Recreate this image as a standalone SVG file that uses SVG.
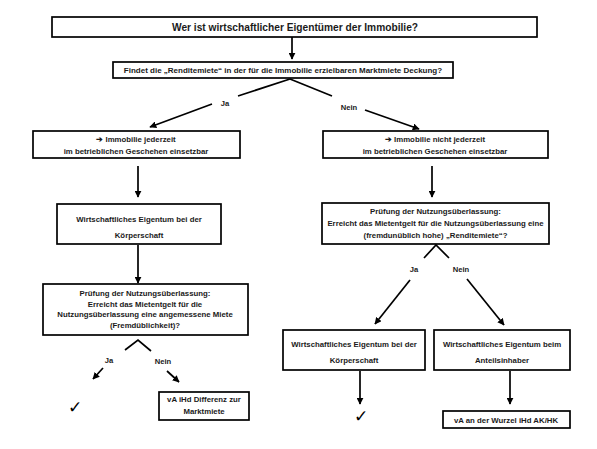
<svg xmlns="http://www.w3.org/2000/svg" width="597" height="449" viewBox="0 0 597 449">
<defs>
<marker id="ah" viewBox="0 0 10 10" refX="9" refY="5" markerWidth="7" markerHeight="7" markerUnits="userSpaceOnUse" orient="auto">
<path d="M0,0 L10,5 L0,10 z" fill="#000"/>
</marker>
<style>
.box{fill:#fff;stroke:#000;stroke-width:1.7}
.t{font-family:"Liberation Sans",Arial,sans-serif;font-weight:bold;font-size:7.8px;fill:#1a1a1a;text-anchor:middle}
.lbl{font-family:"Liberation Sans",Arial,sans-serif;font-weight:bold;font-size:7.6px;fill:#1a1a1a;text-anchor:middle}
.c{fill:none;stroke:#000;stroke-width:1.7}
.a{fill:none;stroke:#000;stroke-width:1.7;marker-end:url(#ah)}
.chk{font-family:"DejaVu Sans",sans-serif;font-size:17px;fill:#000;text-anchor:middle}
</style>
</defs>
<rect width="597" height="449" fill="#fff"/>
<g id="connectors">
<path class="a" d="M292,37 L292,59"/>
<path class="c" d="M290,79 L238,96"/>
<path class="a" d="M212,104 L150,127"/>
<path class="c" d="M290,79 L332,96"/>
<path class="a" d="M365,110 L419,129"/>
<path class="a" d="M138,166 L138,197"/>
<path class="a" d="M138,245 L138,283"/>
<path class="c" d="M125,350 L138,340 L151,351"/>
<path class="a" d="M103,368 L93,379"/>
<path class="a" d="M167,371 L179,382"/>
<path class="a" d="M432,166 L432,197"/>
<path class="c" d="M424,258 L436,245 L449,258"/>
<path class="a" d="M410,280 L375,324"/>
<path class="a" d="M467,279 L504,325"/>
<path class="a" d="M360,371 L360,404"/>
<path class="a" d="M510,371 L510,404"/>
<text class="lbl" x="225" y="106">Ja</text>
<text class="lbl" x="349" y="110">Nein</text>
<text class="lbl" x="109" y="363">Ja</text>
<text class="lbl" x="163" y="364">Nein</text>
<text class="lbl" x="414" y="272">Ja</text>
<text class="lbl" x="461" y="272">Nein</text>
</g>
<g id="title">
<rect class="box" x="52" y="17" width="485" height="20"/>
<text class="t" x="295" y="30.5" style="font-size:10.2px">Wer ist wirtschaftlicher Eigentümer der Immobilie?</text>
</g>
<g id="frage-rendite">
<rect class="box" x="113" y="62" width="340" height="16"/>
<text class="t" x="283" y="73" style="font-size:8px">Findet die „Renditemiete“  in der für die Immobilie erzielbaren Marktmiete Deckung?</text>
</g>
<g id="jederzeit">
<rect class="box" x="33" y="131" width="207" height="27"/>
<text class="t" x="136" y="142">➔ Immobilie jederzeit</text>
<text class="t" x="136" y="154">im betrieblichen Geschehen einsetzbar</text>
</g>
<g id="we-koerperschaft-links">
<rect class="box" x="57" y="204" width="164" height="40"/>
<text class="t" x="139" y="222">Wirtschaftliches Eigentum bei der</text>
<text class="t" x="139" y="238">Körperschaft</text>
</g>
<g id="pruefung-links">
<rect class="box" x="43" y="284" width="205" height="51"/>
<text class="t" x="145" y="296">Prüfung der Nutzungsüberlassung:</text>
<text class="t" x="145" y="306.5">Erreicht das Mietentgelt für die</text>
<text class="t" x="145" y="317">Nutzungsüberlassung eine angemessene Miete</text>
<text class="t" x="145" y="327.5">(Fremdüblichkeit)?</text>
</g>
<g id="check-links">
<text class="chk" x="75" y="413">✓</text>
</g>
<g id="va-differenz">
<rect class="box" x="159" y="392" width="90" height="28"/>
<text class="t" x="204" y="402">vA iHd Differenz zur</text>
<text class="t" x="204" y="414">Marktmiete</text>
</g>
<g id="nicht-jederzeit">
<rect class="box" x="323" y="131" width="225" height="27"/>
<text class="t" x="435" y="142">➔ Immobilie nicht jederzeit</text>
<text class="t" x="435" y="154">im betrieblichen Geschehen einsetzbar</text>
</g>
<g id="pruefung-rechts">
<rect class="box" x="322" y="203" width="227" height="41"/>
<text class="t" x="435.5" y="214">Prüfung der Nutzungsüberlassung:</text>
<text class="t" x="435.5" y="226">Erreicht das Mietentgelt für die Nutzungsüberlassung eine</text>
<text class="t" x="435.5" y="238">(fremdunüblich hohe) „Renditemiete“?</text>
</g>
<g id="we-koerperschaft-rechts">
<rect class="box" x="283" y="330" width="142" height="40"/>
<text class="t" x="354" y="347">Wirtschaftliches Eigentum bei der</text>
<text class="t" x="354" y="363">Körperschaft</text>
</g>
<g id="we-anteilsinhaber">
<rect class="box" x="434" y="330" width="136" height="40"/>
<text class="t" x="502" y="347">Wirtschaftliches Eigentum beim</text>
<text class="t" x="502" y="363">Anteilsinhaber</text>
</g>
<g id="check-rechts">
<text class="chk" x="361" y="422">✓</text>
</g>
<g id="va-wurzel">
<rect class="box" x="443" y="411" width="127" height="17"/>
<text class="t" x="506" y="422.5">vA an der Wurzel iHd AK/HK</text>
</g>
</svg>
